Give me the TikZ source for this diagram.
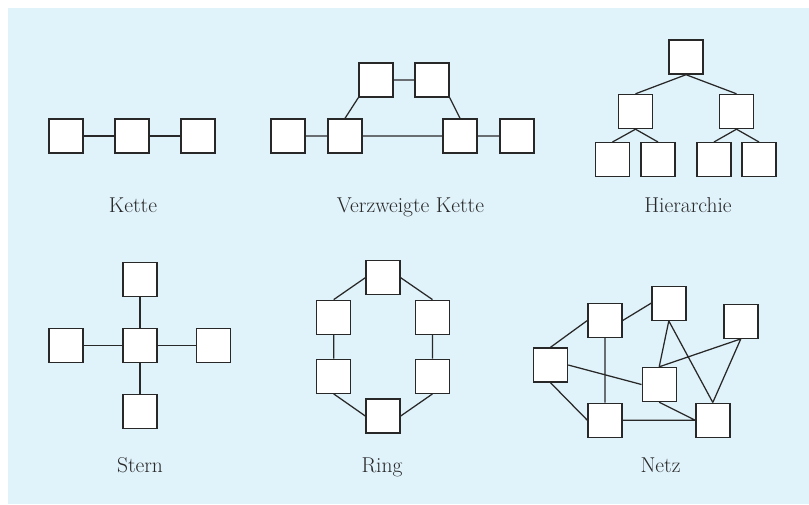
\documentclass[tikz,border=0pt]{standalone}
\usepackage{tikz}
\definecolor{bg}{RGB}{224,242,250}
\definecolor{ink}{RGB}{40,40,40}
\tikzset{
  knoten/.style={draw=ink,fill=white,line width=1.4pt,minimum size=34pt,inner sep=0pt},
  kante/.style={draw=ink,line width=1.25pt},
  titel/.style={anchor=base,text=ink,font=\fontsize{21.5}{24}\selectfont}
}
\begin{document}
\begin{tikzpicture}[x=1pt,y=-1pt]
  \useasboundingbox (0,0) rectangle (809,504);
  \fill[bg] (8,8) rectangle (809,504);
  % Kette
  \foreach \i/\x in {1/66,2/132,3/198}{
    \node[knoten] (k\i) at (\x,136) {};
  }
  \draw[kante] (k1) -- (k2) (k2) -- (k3);
  \node[titel] (tk) at (133,212.5) {Kette};
  % Verzweigte Kette
  \foreach \i/\x in {1/288,2/345,3/460,4/517}{
    \node[knoten] (v\i) at (\x,136) {};
  }
  \node[knoten] (o1) at (376,80) {};
  \node[knoten] (o2) at (432,80) {};
  \draw[kante] (v1) -- (v2) (v2) -- (v3) (v3) -- (v4) (o1) -- (o2)
    (o1.south west) -- (v2.north) (o2.south east) -- (v3.north);
  \node[titel] (tv) at (410.5,212.5) {Verzweigte Kette};
  % Hierarchie
  \node[knoten] (h0) at (686,57) {};
  \node[knoten] (h1) at (635.5,111.5) {};
  \node[knoten] (h2) at (736.5,111.5) {};
  \foreach \i/\x/\p in {11/612.5/h1,12/658/h1,21/714/h2,22/759/h2}{
    \node[knoten] (h\i) at (\x,159.7) {};
    \draw[kante] (\p.south) -- (h\i.north);
  }
  \draw[kante] (h0.south) -- (h1.north) (h0.south) -- (h2.north);
  \node[titel] (th) at (688,212.5) {Hierarchie};
  % Stern
  \node[knoten] (s0) at (140,345.5) {};
  \node[knoten] (sn) at (140,279.2) {};
  \node[knoten] (ss) at (140,411.7) {};
  \node[knoten] (sw) at (66,345.5) {};
  \node[knoten] (se) at (213.7,345.5) {};
  \foreach \r in {sn,ss,sw,se}{
    \draw[kante] (s0) -- (\r);
  }
  \node[titel] (ts) at (140,472.5) {Stern};
  % Ring
  \node[knoten] (r1) at (383,277.7) {};
  \node[knoten] (r2) at (432.5,317.3) {};
  \node[knoten] (r3) at (432.5,376.2) {};
  \node[knoten] (r4) at (383,416) {};
  \node[knoten] (r5) at (333.7,376.2) {};
  \node[knoten] (r6) at (333.7,317.3) {};
  \draw[kante] (r1.east) -- (r2.north) (r2) -- (r3) (r3.south) -- (r4.east)
    (r4.west) -- (r5.south) (r5) -- (r6) (r6.north) -- (r1.west);
  \node[titel] (tr) at (382,472.5) {Ring};
  % Netz
  \node[knoten] (na) at (550.5,365) {};
  \node[knoten] (nb) at (605,320.5) {};
  \node[knoten] (nc) at (668.8,303.2) {};
  \node[knoten] (nd) at (740.8,321.2) {};
  \node[knoten] (ne) at (659.2,384.5) {};
  \node[knoten] (nf) at (605,420.2) {};
  \node[knoten] (ng) at (712.8,420.2) {};
  \draw[kante] (na.north) -- (nb.west) (nb.east) -- (nc.west)
    (nb.south) -- (nf.north) (na.east) -- (ne.west) (na.south) -- (nf.west)
    (nc.south) -- (ne.north) (nc.south) -- (ng.north)
    (nd.south) -- (ne.north) (nd.south) -- (ng.north)
    (ne.south) -- (ng.west) (nf.east) -- (ng.west);
  \node[titel] (tn) at (660.5,472.5) {Netz};
\end{tikzpicture}
\end{document}
